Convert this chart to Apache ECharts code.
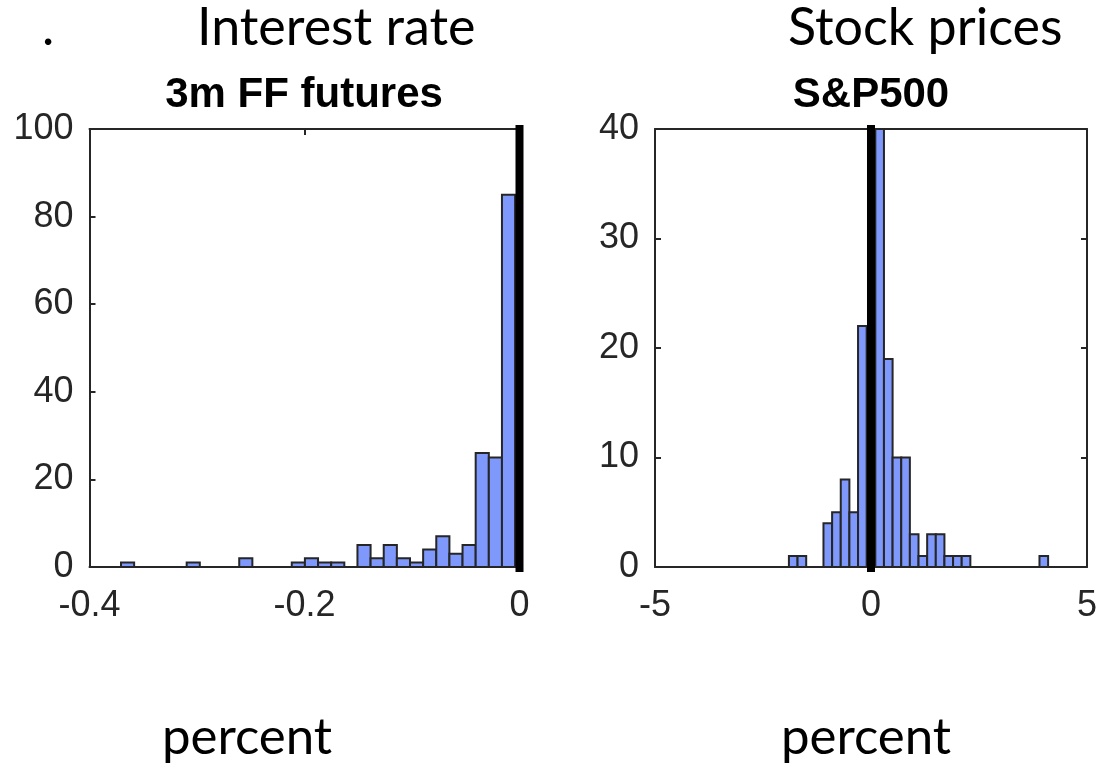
<!DOCTYPE html>
<html>
<head>
<meta charset="utf-8">
<script src="https://cdn.jsdelivr.net/npm/echarts@6/dist/echarts.min.js"></script>
<style>
  html, body { margin: 0; padding: 0; background: #fff; }
  #chart { width: 1100px; height: 767px; }
</style>
</head>
<body>
<div id="chart"></div>
<script>
// Histogram counts per bin, left to right.
const ffCounts = [1, 0, 0, 0, 0, 1, 0, 0, 0, 2, 0, 0, 0, 1, 2, 1, 1, 0, 5, 2, 5, 2, 1, 4, 7, 3, 5, 26, 25, 85];
const ffBinStart = -0.3707;
const ffBinWidth = 0.01222;

// S&P500 bins of width 0.2 starting at -1.9; the bin around zero sits under the zero line.
const spCounts = [1, 1, 0, 0, 4, 5, 8, 5, 22, null, 40, 19, 10, 10, 3, 1, 3, 3, 1, 1, 1, 0, 0, 0, 0, 0, 0, 0, 0, 1];
const spBinStart = -1.9;
const spBinWidth = 0.2;

const ffXTicks = { min: -0.4, max: 0, interval: 0.2 };
const ffYTicks = { min: 0, max: 100, interval: 20 };
const spXTicks = { min: -5, max: 5, interval: 5 };
const spYTicks = { min: 0, max: 40, interval: 10 };

const panelTitles = ['3m FF futures', 'S&P500'];
const headings = ['Interest rate', 'Stock prices'];
const xLabel = 'percent';

const AXIS_COLOR = '#262626';
const BAR_COLOR = '#7e98fb';
const FONT = '"Liberation Sans", Arial, sans-serif';
const HEAD_FONT = 'Lato, "Open Sans", sans-serif';

function binData(start, width, counts) {
  const out = [];
  counts.forEach((c, k) => {
    if (c === null) return;
    out.push([start + k * width, start + (k + 1) * width, c]);
  });
  return out;
}

function renderBar(params, api) {
  const p0 = api.coord([api.value(0), 0]);
  const p1 = api.coord([api.value(1), api.value(2)]);
  return {
    type: 'rect',
    shape: { x: p0[0], y: p1[1], width: p1[0] - p0[0], height: p0[1] - p1[1] },
    style: { fill: BAR_COLOR, stroke: AXIS_COLOR, lineWidth: 2 }
  };
}

function zeroLine(yMax) {
  return function (params, api) {
    const top = api.coord([0, yMax]);
    const bot = api.coord([0, 0]);
    return {
      type: 'rect',
      shape: { x: top[0] - 4, y: top[1] - 4, width: 8, height: bot[1] - top[1] + 9 },
      style: { fill: '#000' }
    };
  };
}

const labelStyle = { color: AXIS_COLOR, fontSize: 36, fontFamily: FONT };

function mainX(gridIndex, t, extra) {
  return Object.assign({
    type: 'value', gridIndex, min: t.min, max: t.max, interval: t.interval,
    axisLine: { show: true, onZero: false, lineStyle: { color: AXIS_COLOR, width: 2 } },
    axisTick: { show: true, inside: true, length: 6, lineStyle: { color: AXIS_COLOR, width: 2 } },
    axisLabel: Object.assign({ margin: 21, formatter: v => String(v) }, labelStyle),
    splitLine: { show: false }
  }, extra || {});
}
function mainY(gridIndex, t, extra) {
  return Object.assign({
    type: 'value', gridIndex, min: t.min, max: t.max, interval: t.interval,
    axisLine: { show: true, onZero: false, lineStyle: { color: AXIS_COLOR, width: 2 } },
    axisTick: { show: true, inside: true, length: 6, lineStyle: { color: AXIS_COLOR, width: 2 } },
    axisLabel: Object.assign({ margin: 16 }, labelStyle),
    splitLine: { show: false }
  }, extra || {});
}
const hiddenLabels = { axisLabel: { show: false } };

const chart = echarts.init(document.getElementById('chart'));
chart.setOption({
  backgroundColor: '#fff',
  animation: false,
  grid: [
    { left: 89.5, top: 129, width: 430, height: 438, show: false },
    { left: 655, top: 129, width: 433, height: 438, show: false }
  ],
  xAxis: [
    mainX(0, ffXTicks),
    mainX(0, ffXTicks, Object.assign({ position: 'top' }, hiddenLabels)),
    mainX(1, spXTicks),
    mainX(1, spXTicks, Object.assign({ position: 'top' }, hiddenLabels))
  ],
  yAxis: [
    mainY(0, ffYTicks),
    mainY(0, ffYTicks, Object.assign({ position: 'right' }, hiddenLabels)),
    mainY(1, spYTicks),
    mainY(1, spYTicks, Object.assign({ position: 'right' }, hiddenLabels))
  ],
  series: [
    { type: 'custom', xAxisIndex: 0, yAxisIndex: 0, renderItem: renderBar,
      data: binData(ffBinStart, ffBinWidth, ffCounts), encode: { x: [0, 1], y: 2 } },
    { type: 'custom', xAxisIndex: 2, yAxisIndex: 2, renderItem: renderBar,
      data: binData(spBinStart, spBinWidth, spCounts), encode: { x: [0, 1], y: 2 } },
    { type: 'custom', xAxisIndex: 0, yAxisIndex: 0, clip: false, z: 5,
      renderItem: zeroLine(ffYTicks.max), data: [[0, 0]] },
    { type: 'custom', xAxisIndex: 2, yAxisIndex: 2, clip: false, z: 5,
      renderItem: zeroLine(spYTicks.max), data: [[0, 0]] }
  ],
  graphic: [
    { type: 'text', left: 42, top: 2, style: { text: '.', fontSize: 52, fontFamily: HEAD_FONT, fill: '#000' } },
    { type: 'text', left: 197, top: 2, style: { text: headings[0], fontSize: 52, fontFamily: HEAD_FONT, fill: '#000' } },
    { type: 'text', left: 788, top: 2, style: { text: headings[1], fontSize: 52, fontFamily: HEAD_FONT, fill: '#000' } },
    { type: 'text', x: 304, y: 74, style: { text: panelTitles[0], fontSize: 42, fontWeight: 'bold', fontFamily: FONT, fill: '#000', align: 'center' } },
    { type: 'text', x: 871, y: 74, style: { text: panelTitles[1], fontSize: 42, fontWeight: 'bold', fontFamily: FONT, fill: '#000', align: 'center' } },
    { type: 'text', x: 247, y: 712, style: { text: xLabel, fontSize: 51, fontFamily: HEAD_FONT, fill: '#000', align: 'center' } },
    { type: 'text', x: 866, y: 712, style: { text: xLabel, fontSize: 51, fontFamily: HEAD_FONT, fill: '#000', align: 'center' } }
  ]
});
</script>
</body>
</html>
